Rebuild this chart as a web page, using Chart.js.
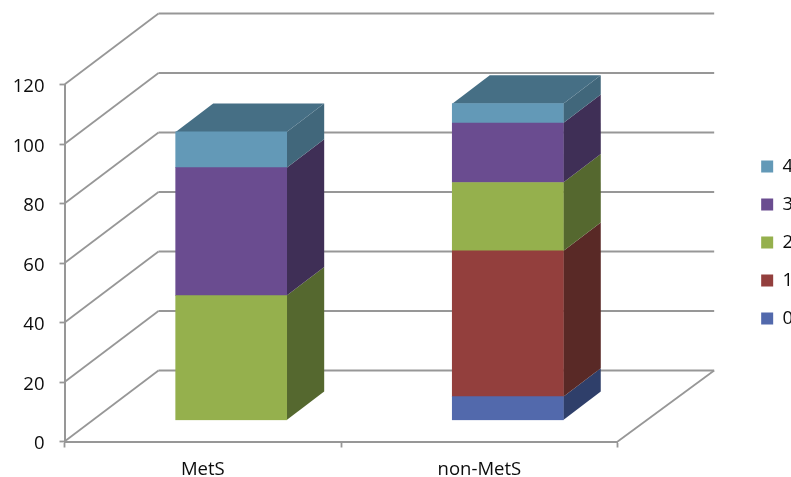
<!DOCTYPE html>
<html>
<head>
<meta charset="utf-8">
<style>
  html, body { margin: 0; padding: 0; background: #fff; overflow: hidden; }
</style>
<script src="https://cdn.jsdelivr.net/npm/chart.js@4"></script>
</head>
<body>
<canvas id="chart" width="791" height="477"></canvas>
<script>
const categories = ['MetS', 'non-MetS']
const tickMax = 120
const tickStep = 20

const series0 = [null, 8]
const series1 = [null, 49]
const series2 = [42, 23]
const series3 = [43, 20]
const series4 = [12, 6.5]

const seriesNames = ['0', '1', '2', '3', '4']
const seriesValues = [series0, series1, series2, series3, series4]
const frontColors = ['#5269ac', '#933f3d', '#95b04d', '#6a4c90', '#6399b7']
const sideColors = ['#2f3f6a', '#592926', '#55682f', '#3f2f56', '#41677b']
const topColor = '#466f85'

const gridColor = '#979797'
const labelFont = { family: 'Open Sans', size: 18.5 }
const wallDx = 94
const wallDxRight = 96.5
const wallDy = -71
const floorDx = 28.4
const floorDy = -21
const barDx = 37.5
const barDy = -28.5

function line(ctx, x1, y1, x2, y2) {
  ctx.beginPath()
  ctx.moveTo(x1, y1)
  ctx.lineTo(x2, y2)
  ctx.stroke()
}

function poly(ctx, color, pts) {
  ctx.fillStyle = color
  ctx.beginPath()
  pts.forEach((p, i) => (i ? ctx.lineTo(p[0], p[1]) : ctx.moveTo(p[0], p[1])))
  ctx.closePath()
  ctx.fill()
}

// walls and floor of the 3d box, taken from the y ticks
const wallsPlugin = {
  id: 'walls',
  beforeDatasetsDraw(chart) {
    const { ctx, scales, chartArea } = chart
    const left = chartArea.left
    const right = chartArea.right
    ctx.save()
    ctx.strokeStyle = gridColor
    ctx.lineWidth = 1.8
    scales.y.ticks.forEach((t) => {
      const y = scales.y.getPixelForValue(t.value)
      line(ctx, left, y, left + wallDx, y + wallDy)
      line(ctx, left + wallDx, y + wallDy, right + wallDxRight, y + wallDy)
    })
    const y0 = scales.y.getPixelForValue(0)
    line(ctx, right, y0, right + wallDxRight, y0 + wallDy)
    ctx.restore()
  },
}

// shift the bars onto the floor, and put depth on them
const barsPlugin = {
  id: 'bars3d',
  beforeDatasetsDraw(chart) {
    const { ctx } = chart
    ctx.save()
    ctx.translate(floorDx, floorDy)
    chart.data.datasets.forEach((ds, di) => {
      chart.getDatasetMeta(di).data.forEach((bar, i) => {
        if (ds.data[i] === null) return
        const r = bar.x + bar.width / 2
        poly(ctx, sideColors[di], [
          [r, bar.base], [r, bar.y], [r + barDx, bar.y + barDy], [r + barDx, bar.base + barDy],
        ])
      })
    })
    categories.forEach((c, i) => {
      let topBar = null
      chart.data.datasets.forEach((ds, di) => {
        if (ds.data[i] !== null) topBar = chart.getDatasetMeta(di).data[i]
      })
      const l = topBar.x - topBar.width / 2
      const r = topBar.x + topBar.width / 2
      poly(ctx, topColor, [
        [l, topBar.y], [r, topBar.y], [r + barDx, topBar.y + barDy], [l + barDx, topBar.y + barDy],
      ])
    })
    ctx.restore()
  },
  beforeDatasetDraw(chart) {
    chart.ctx.save()
    chart.ctx.translate(floorDx, floorDy)
  },
  afterDatasetDraw(chart) {
    chart.ctx.restore()
  },
}

new Chart(document.getElementById('chart').getContext('2d'), {
  type: 'bar',
  data: {
    labels: categories,
    datasets: seriesNames.map((name, i) => ({
      label: name,
      data: seriesValues[i],
      backgroundColor: frontColors[i],
      borderWidth: 0,
      barThickness: 111,
    })),
  },
  options: {
    responsive: false,
    animation: false,
    layout: { padding: { top: 8, right: -12, bottom: 0, left: 0 } },
    scales: {
      x: {
        stacked: true,
        grid: { drawOnChartArea: false, color: gridColor, tickLength: 6, tickWidth: 1.8 },
        border: { color: gridColor, width: 2 },
        ticks: { color: '#0c0c0c', font: labelFont, maxRotation: 0, padding: 11 },
        afterFit(scale) { scale.height = 35.5 },
      },
      y: {
        stacked: true,
        min: 0,
        max: tickMax,
        grid: { drawOnChartArea: false, color: gridColor, tickLength: 5, tickWidth: 1.8 },
        border: { color: gridColor, width: 2 },
        ticks: { stepSize: tickStep, color: '#0c0c0c', font: labelFont, padding: 15, labelOffset: 2.5 },
        afterFit(scale) { scale.width = 64.5 },
      },
      topGap: {
        type: 'linear',
        position: 'top',
        grid: { display: false },
        border: { display: false },
        ticks: { display: false },
        afterFit(scale) { scale.height = 76.5 },
      },
      legendGap: {
        type: 'linear',
        position: 'right',
        grid: { display: false },
        border: { display: false },
        ticks: { display: false },
        afterFit(scale) { scale.width = 124 },
      },
    },
    plugins: {
      legend: {
        position: 'right',
        reverse: true,
        labels: {
          boxWidth: 12,
          boxHeight: 12,
          padding: 19.5,
          color: '#0c0c0c',
          font: labelFont,
        },
      },
      tooltip: { enabled: false },
    },
  },
  plugins: [wallsPlugin, barsPlugin],
})
</script>
</body>
</html>
